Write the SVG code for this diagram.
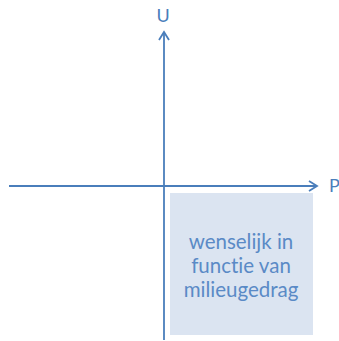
<svg xmlns="http://www.w3.org/2000/svg" width="339" height="341" viewBox="0 0 339 341">
<style>
.ax{stroke:#4a7ebb;stroke-width:1.8;fill:none}
.lbl{font-family:Lato,"Open Sans","Liberation Sans",sans-serif;fill:#4a7ebb;font-size:18px}
.t{font-family:Lato,"Open Sans","Liberation Sans",sans-serif;fill:#5a8ac6;font-size:20.5px;text-anchor:middle;font-variant-ligatures:none;font-feature-settings:"liga" 0,"dlig" 0}
</style>
<rect width="339" height="341" fill="#ffffff"/>
<g id="region">
<rect x="170" y="193" width="143" height="142" fill="#dbe4f1"/>
<text class="t" x="241" y="249">wenselijk in</text>
<text class="t" x="241" y="273">functie van</text>
<text class="t" x="241" y="297">milieugedrag</text>
</g>
<g id="connectors">
<line class="ax" x1="164" y1="340" x2="164" y2="32"/>
<polyline class="ax" points="159,40 164,32 169,40"/>
<line class="ax" x1="9" y1="186" x2="317" y2="186"/>
<polyline class="ax" points="309,181 317,186 309,191"/>
</g>
<g id="labels">
<text class="lbl" x="163" y="22" text-anchor="middle">U</text>
<text class="lbl" x="329" y="192">P</text>
</g>
</svg>
